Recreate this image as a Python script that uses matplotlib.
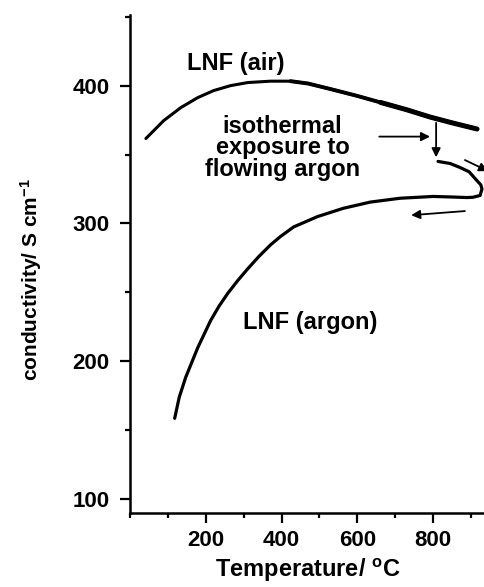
import matplotlib
matplotlib.use("Agg")
import matplotlib.pyplot as plt
from matplotlib.ticker import MultipleLocator

plt.rcParams['font.family'] = ['Liberation Sans', 'DejaVu Sans']
plt.rcParams['font.weight'] = 'bold'
plt.rcParams['mathtext.fontset'] = 'custom'
plt.rcParams['mathtext.rm'] = 'Liberation Sans:bold'
plt.rcParams['mathtext.bf'] = 'Liberation Sans:bold'
plt.rcParams['mathtext.default'] = 'regular'

# conductivity in air, heating
air_T = [42, 89, 134, 179, 221, 266, 311, 371, 424, 470, 529, 600, 661,
         730, 792, 850, 916]
air_s = [361.6, 374.6, 384, 391.3, 396.4, 400, 402.2, 403.2, 403.2, 401.5,
         397.5, 392.5, 387.8, 382.5, 377.2, 373, 368.5]

# after switching to argon at ~810 C, then cooling
ar_T = [813, 845, 871, 895, 916, 926, 929, 924, 905, 889, 850, 800, 713,
        634, 563, 495, 432, 397, 371, 340, 311, 285, 258, 235, 213, 179,
        147, 130, 118]
ar_s = [345, 343.5, 340.6, 337.5, 331, 328, 325, 320.3, 319, 318.8, 319.2,
        319.6, 318.3, 315.5, 311, 305, 297.5, 290.5, 284.5, 276, 267.2,
        258.8, 249.3, 240, 229.7, 210, 188.4, 174, 158.7]

fig = plt.figure(figsize=(4.85, 5.87), dpi=100)
ax = fig.add_axes([0.268, 0.126, 0.732, 0.848])

ax.plot(air_T, air_s, color='black', lw=2.2, solid_capstyle='round')
# the measurement gets noisy at high T, drawn heavier there
ax.plot(air_T[8:], air_s[8:], color='black', lw=2.8, solid_capstyle='round')
ax.plot(air_T[12:], air_s[12:], color='black', lw=3.6, solid_capstyle='round')
ax.plot(ar_T, ar_s, color='black', lw=2.3, solid_capstyle='round')

ax.set_xlim(0, 937)
ax.set_ylim(90, 451)

for s in ['top', 'right']:
    ax.spines[s].set_visible(False)
for s in ['left', 'bottom']:
    ax.spines[s].set_linewidth(1.8)

ax.xaxis.set_minor_locator(MultipleLocator(100))
ax.yaxis.set_minor_locator(MultipleLocator(50))
ax.set_xticks([200, 400, 600, 800])
ax.set_yticks([100, 200, 300, 400])
ax.tick_params(which='major', direction='out', length=7.5, width=1.6,
               labelsize=16, pad=5)
ax.tick_params(which='minor', direction='out', length=3.5, width=1.6)
ax.tick_params(axis='y', which='major', pad=7)
for lab in ax.get_xticklabels() + ax.get_yticklabels():
    lab.set_fontweight('bold')

ax.set_xlabel(r'Temperature/ $^{o}$C', fontsize=17, fontweight='bold', labelpad=4)
ax.set_ylabel(r'conductivity/ S cm$^{-1}$', fontsize=15, fontweight='bold',
              labelpad=21, y=0.468)

ax.text(279, 416, 'LNF (air)', fontsize=17, fontweight='bold', ha='center', va='center')
ax.text(403, 355, 'isothermal\nexposure to\nflowing argon', fontsize=17,
        fontweight='bold', ha='center', va='center', linespacing=0.92)
ax.text(476, 228, 'LNF (argon)', fontsize=17, fontweight='bold', ha='center', va='center')

arw = dict(arrowstyle='-|>', color='black', lw=1.3, mutation_scale=13,
           shrinkA=0, shrinkB=0)
ax.annotate('', xy=(792, 363), xytext=(658, 363), arrowprops=arw)
ax.annotate('', xy=(808, 348), xytext=(808, 373), arrowprops=arw)
ax.annotate('', xy=(742, 306), xytext=(884, 309), arrowprops=arw)
ax.annotate('', xy=(945, 338), xytext=(884, 346), arrowprops=arw, annotation_clip=False)

fig.savefig('out.png', dpi=100)
